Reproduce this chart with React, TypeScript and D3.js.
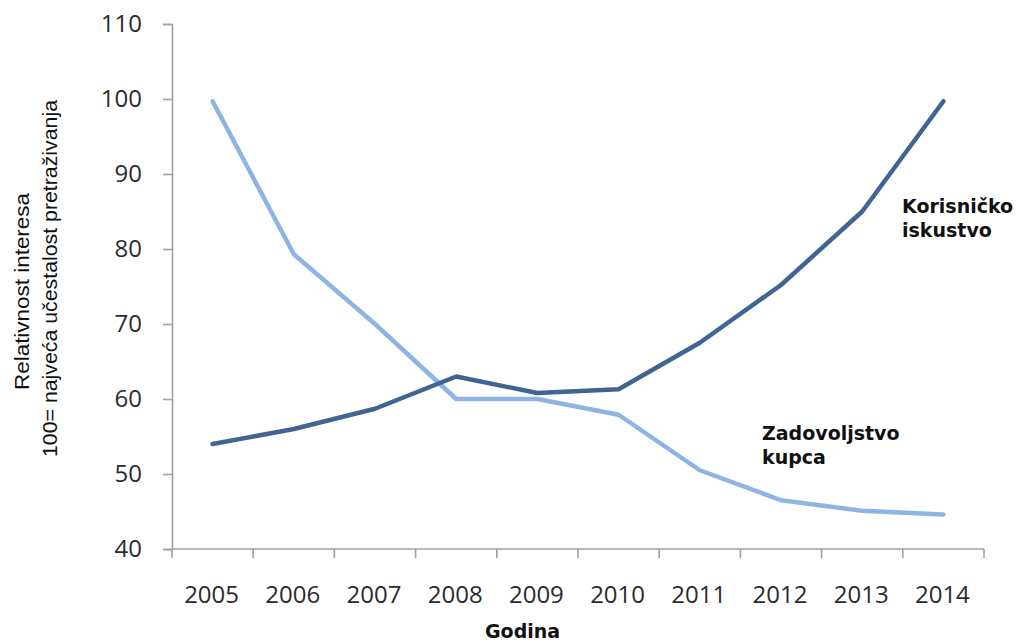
import React, { useEffect, useRef } from "react";
import * as d3 from "d3";

// Godine i vrijednosti ocitane sa slike
const years = ["2005", "2006", "2007", "2008", "2009", "2010", "2011", "2012", "2013", "2014"];
const korisnickoIskustvo = [54, 56, 58.7, 63, 60.8, 61.3, 67.5, 75.2, 85, 99.7];
const zadovoljstvoKupca = [99.7, 79.3, 70, 60, 60, 57.9, 50.5, 46.5, 45.1, 44.6];
const yTickValues = [40, 50, 60, 70, 80, 90, 100, 110];

const App = () => {
  const svgRef = useRef<SVGSVGElement>(null);
  const width = 1023;
  const height = 642;

  useEffect(() => {
    const svg = d3.select(svgRef.current);
    svg.selectAll("*").remove();

    const margin = { top: 24, right: 39, bottom: 93, left: 172 };
    const innerWidth = width - margin.left - margin.right;
    const innerHeight = height - margin.top - margin.bottom;

    const x = d3.scaleBand().domain(years).range([0, innerWidth]).padding(0);
    const y = d3.scaleLinear().domain([40, 110]).range([innerHeight, 0]);

    const g = svg.append("g").attr("transform", `translate(${margin.left},${margin.top})`);

    const axisColor = "#a0a0a0";
    const tickFont = "'Open Sans', sans-serif";

    // Y axis
    const yAxis = g.append("g").call(d3.axisLeft(y).tickValues(yTickValues).tickSize(9).tickPadding(21));
    yAxis.select(".domain").attr("stroke", axisColor).attr("stroke-width", 1.6);
    yAxis.selectAll(".tick line").attr("stroke", axisColor).attr("stroke-width", 1.6);
    yAxis.selectAll(".tick text")
      .attr("fill", "#2b2b2b")
      .style("font-family", tickFont)
      .style("font-size", "24px");

    // X axis, ticks sit between the years
    const xg = g.append("g").attr("transform", `translate(0,${innerHeight})`);
    xg.append("line")
      .attr("x1", 0)
      .attr("x2", innerWidth)
      .attr("stroke", axisColor)
      .attr("stroke-width", 1.6);
    const edges = years.map((d) => x(d) as number).concat([innerWidth]);
    xg.selectAll(".xtick")
      .data(edges)
      .enter()
      .append("line")
      .attr("x1", (d) => d)
      .attr("x2", (d) => d)
      .attr("y1", 0)
      .attr("y2", 9)
      .attr("stroke", axisColor)
      .attr("stroke-width", 1.6);
    xg.selectAll(".xlabel")
      .data(years)
      .enter()
      .append("text")
      .attr("x", (d) => (x(d) as number) + x.bandwidth() / 2 - 1)
      .attr("y", 54)
      .attr("text-anchor", "middle")
      .attr("fill", "#2b2b2b")
      .style("font-family", tickFont)
      .style("font-size", "24px")
      .text((d) => d);

    // Lines
    const line = d3
      .line<number>()
      .x((_, i) => (x(years[i]) as number) + x.bandwidth() / 2)
      .y((d) => y(d));

    g.append("path")
      .datum(zadovoljstvoKupca)
      .attr("fill", "none")
      .attr("stroke", "#8db4e2")
      .attr("stroke-width", 4.5)
      .attr("stroke-linecap", "round")
      .attr("stroke-linejoin", "round")
      .attr("d", line);

    g.append("path")
      .datum(korisnickoIskustvo)
      .attr("fill", "none")
      .attr("stroke", "#3f6593")
      .attr("stroke-width", 4.5)
      .attr("stroke-linecap", "round")
      .attr("stroke-linejoin", "round")
      .attr("d", line);

    // Series annotations
    const boldFont = "'DejaVu Sans', Verdana, sans-serif";
    const addLabel = (lines: string[], px: number, py: number, gap: number) => {
      lines.forEach((t, i) => {
        svg.append("text")
          .attr("x", px)
          .attr("y", py + i * gap)
          .attr("fill", "#111")
          .style("font-family", boldFont)
          .style("font-weight", "bold")
          .style("font-size", "19px")
          .text(t);
      });
    };
    addLabel(["Korisničko", "iskustvo"], 902, 213, 23.5);
    addLabel(["Zadovoljstvo", "kupca"], 762, 440, 24);

    // X axis title
    svg.append("text")
      .attr("x", 485)
      .attr("y", 638)
      .attr("fill", "#111")
      .style("font-family", boldFont)
      .style("font-weight", "bold")
      .style("font-size", "19px")
      .text("Godina");

    // Y axis title (two lines)
    const yTitle = [
      { text: "Relativnost interesa", bx: 29, cy: 291.5, len: 197 },
      { text: "100= najveća učestalost pretraživanja", bx: 57, cy: 278.5, len: 357 },
    ];
    yTitle.forEach((t) => {
      svg.append("text")
        .attr("transform", `translate(${t.bx},${t.cy}) rotate(-90)`)
        .attr("text-anchor", "middle")
        .attr("textLength", t.len)
        .attr("lengthAdjust", "spacingAndGlyphs")
        .attr("fill", "#111")
        .style("font-family", "'Liberation Sans', Arial, sans-serif")
        .style("font-size", "21px")
        .text(t.text);
    });
  }, []);

  return (
    <svg
      ref={svgRef}
      width={width}
      height={height}
      style={{ position: "absolute", left: 0, top: 0, background: "#fff" }}
    />
  );
};

export default App;
